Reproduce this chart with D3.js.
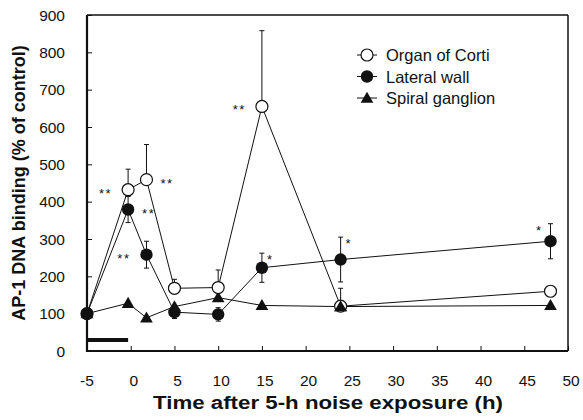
<!DOCTYPE html>
<html>
<head>
<meta charset="utf-8">
<script src="https://cdn.jsdelivr.net/npm/d3@7"></script>
<style>
  html, body { margin: 0; padding: 0; background: #fff; }
  svg { display: block; }
  text { font-family: "Liberation Sans", Arial, Helvetica, sans-serif; fill: #111; }
</style>
</head>
<body>
<svg id="chart" width="583" height="420"></svg>
<script>
// ---- Data ----
const times = [-5, -0.3, 1.8, 5, 10, 15, 24, 48];
const organOfCorti = [100, 432, 459, 168, 170, 655, 120, 160];
const organErrUp = [0, 55, 94, 24, 47, 203, 48, 0];
const lateralWall = [100, 379, 258, 104, 98, 223, 245, 294];
const lateralErr = [0, 35, 36, 17, 18, 39, 60, 47];
const spiralGanglion = [100, 128, 89, 119, 143, 122, 119, 122];
const seriesNames = ["Organ of Corti", "Lateral wall", "Spiral ganglion"];
const xTicks = [-5, 0, 5, 10, 15, 20, 25, 30, 35, 40, 45, 50];
const yTicks = [0, 100, 200, 300, 400, 500, 600, 700, 800, 900];
const exposure = [-5, -0.3];
// significance marks: series index, time index, label, side
const sigSeries = [0, 0, 1, 1, 0, 1, 1, 1];
const sigIndex = [1, 2, 1, 2, 5, 5, 6, 7];
const sigLabel = ["**", "**", "**", "**", "**", "*", "*", "*"];
const sigSide = ["left", "right", "right", "left", "left", "right", "right", "left"];
const xTitle = "Time after 5-h noise exposure (h)";
const yTitle = "AP-1 DNA binding (% of control)";

// ---- Layout ----
const L = 87, R = 568, T = 15, B = 351;
const svg = d3.select("#chart");
const x = d3.scaleLinear().domain([-5, 50]).range([L, R]);
const y = d3.scaleLinear().domain([0, 900]).range([B, T]);

// frame
svg.append("line").attr("x1", L).attr("x2", R).attr("y1", T).attr("y2", T).attr("stroke", "#111").attr("stroke-width", 1.5);
svg.append("line").attr("x1", R).attr("x2", R).attr("y1", T).attr("y2", B).attr("stroke", "#111").attr("stroke-width", 1.5);

// axes with inward ticks
const yAxis = d3.axisRight(y).tickValues(yTicks).tickSize(5).tickFormat("");
const gy = svg.append("g").attr("transform", `translate(${L},0)`).call(yAxis);
const xAxis = d3.axisTop(x).tickValues(xTicks).tickSize(5).tickFormat("");
const gx = svg.append("g").attr("transform", `translate(0,${B})`).call(xAxis);
[gy, gx].forEach(g => {
  g.select(".domain").attr("stroke", "#111").attr("stroke-width", 2.2);
  g.selectAll(".tick line").attr("stroke", "#111").attr("stroke-width", 1);
});
gy.select(".domain").attr("d", `M0,${T}V${B + 1}`);
gx.select(".domain").attr("d", `M${L - 1},0H${R}`);

// tick labels
svg.append("g").selectAll("text").data(yTicks).join("text")
  .attr("x", 65).attr("y", d => y(d) + 5.5)
  .attr("text-anchor", "end").attr("font-size", 15.5).text(d => d);
svg.append("g").selectAll("text").data(xTicks).join("text")
  .attr("x", d => x(d) + (d < 0 ? 0 : 3)).attr("y", 386)
  .attr("text-anchor", "middle").attr("font-size", 15.5).text(d => d);

// titles
svg.append("text").attr("x", 328).attr("y", 409).attr("text-anchor", "middle")
  .attr("font-size", 18).attr("font-weight", "bold")
  .attr("textLength", 350).attr("lengthAdjust", "spacingAndGlyphs").text(xTitle);
svg.append("text").attr("transform", "translate(25,183) rotate(-90)").attr("text-anchor", "middle")
  .attr("font-size", 18).attr("font-weight", "bold").text(yTitle);

// exposure bar
svg.append("rect").attr("x", x(exposure[0])).attr("y", 338).attr("width", x(exposure[1]) - x(exposure[0]))
  .attr("height", 4).attr("fill", "#111");

const line = d3.line().x((d, i) => x(times[i])).y(d => y(d));

// error bars
function errBar(vals, up, down) {
  const g = svg.append("g").attr("stroke", "#111").attr("stroke-width", 1);
  vals.forEach((v, i) => {
    const hi = v + up[i], lo = v - down[i];
    if (up[i] > 0) {
      g.append("line").attr("x1", x(times[i])).attr("x2", x(times[i])).attr("y1", y(v)).attr("y2", y(hi));
      g.append("line").attr("x1", x(times[i]) - 2.5).attr("x2", x(times[i]) + 2.5).attr("y1", y(hi)).attr("y2", y(hi));
    }
    if (down[i] > 0) {
      g.append("line").attr("x1", x(times[i])).attr("x2", x(times[i])).attr("y1", y(v)).attr("y2", y(lo));
      g.append("line").attr("x1", x(times[i]) - 2.5).attr("x2", x(times[i]) + 2.5).attr("y1", y(lo)).attr("y2", y(lo));
    }
  });
}
errBar(organOfCorti, organErrUp, organOfCorti.map(() => 0));
errBar(lateralWall, lateralErr, lateralErr);

// lines
[organOfCorti, lateralWall, spiralGanglion].forEach(s => {
  svg.append("path").datum(s).attr("d", line).attr("fill", "none").attr("stroke", "#111").attr("stroke-width", 1);
});

const tri = d3.symbol().type(d3.symbolTriangle).size(70);
function drawMarker(g, kind, cx, cy) {
  if (kind === 0) g.append("circle").attr("cx", cx).attr("cy", cy).attr("r", 6).attr("fill", "#fff").attr("stroke", "#111").attr("stroke-width", 1.2);
  else if (kind === 1) g.append("circle").attr("cx", cx).attr("cy", cy).attr("r", 6.2).attr("fill", "#111");
  else g.append("path").attr("d", tri()).attr("transform", `translate(${cx},${cy + 1})`).attr("fill", "#111");
}
const mg = svg.append("g");
spiralGanglion.forEach((v, i) => drawMarker(mg, 2, x(times[i]), y(v)));
organOfCorti.forEach((v, i) => drawMarker(mg, 0, x(times[i]), y(v)));
lateralWall.forEach((v, i) => drawMarker(mg, 1, x(times[i]), y(v)));
// triangle at 24 h drawn over the open circle as in the reference
drawMarker(mg, 2, x(times[6]), y(spiralGanglion[6]));

// significance marks
const allSeries = [organOfCorti, lateralWall, spiralGanglion];
sigLabel.forEach((lab, k) => {
  const s = sigSeries[k], i = sigIndex[k];
  const v = allSeries[s][i];
  const cx = x(times[i]);
  const left = sigSide[k] === "left";
  const late = s === 1 && i >= 5;
  const yy = late ? y(v + lateralErr[i]) + 11 : y(v) + 8;
  svg.append("text")
    .attr("x", left ? cx - (late ? 8 : 16) : cx + (late ? 5 : 14))
    .attr("y", yy)
    .attr("text-anchor", left ? "end" : "start")
    .attr("font-size", 13).attr("letter-spacing", 1.5).text(lab);
});

// legend
const lg = svg.append("g").attr("transform", "translate(357,55)");
seriesNames.forEach((n, i) => {
  const gy0 = i * 21.5;
  lg.append("line").attr("x1", 0).attr("x2", 20).attr("y1", gy0).attr("y2", gy0).attr("stroke", "#111").attr("stroke-width", 1);
  drawMarker(lg, i, 10, gy0);
  lg.append("text").attr("x", 29).attr("y", gy0 + 6).attr("font-size", 16.5).text(n);
});
</script>
</body>
</html>
